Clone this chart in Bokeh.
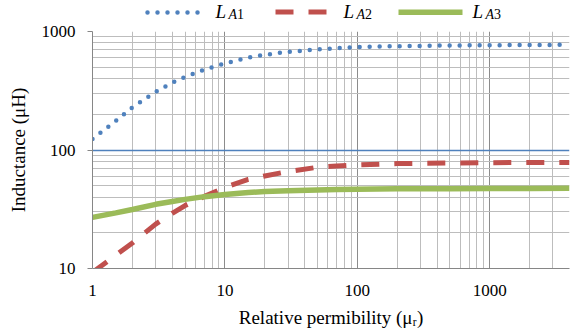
from bokeh.plotting import figure
from bokeh.layouts import column
from bokeh.models import FixedTicker, Label, NumeralTickFormatter, Range1d
from bokeh.embed import file_html
from bokeh.resources import INLINE

# ---- data ----
mu_r = [1, 1.5, 2, 3, 4, 5, 7, 10, 15, 20, 30, 50, 70, 100, 200, 500, 1000, 2000, 4000]
L_A1 = [124, 176, 229, 309, 370, 414, 478, 537, 604, 636, 674, 705, 722, 738, 752, 762, 766, 770, 772]
L_A2 = [9.27, 12.96, 16.4, 23.7, 29.2, 34.0, 40.6, 48.3, 56.5, 60.4, 65.8, 71.5, 73.3, 75.0, 76.8, 77.6, 78.2, 78.4, 78.4]
L_A3 = [27.0, 29.5, 31.5, 34.8, 36.8, 38.3, 40.4, 42.2, 43.8, 44.6, 45.3, 46.0, 46.4, 46.7, 47.0, 47.2, 47.3, 47.4, 47.5]

series_sub = ["A", "A", "A"]
series_num = ["1", "2", "3"]

x_ticks = [1, 10, 100, 1000]
x_tick_labels = ["1", "10", "100", "1000"]
y_ticks = [10, 100, 1000]
y_tick_labels = ["10", "100", "1000"]
x_minor = [m * d for d in (1, 10, 100) for m in range(2, 10)] + [2000, 3000, 4000]
y_minor = [m * d for d in (10, 100) for m in range(2, 10)]

SERIF = "Liberation Serif"
BLUE, RED, GREEN = "#4F81BD", "#C0504D", "#9BBB59"
styles = [
    dict(line_color=BLUE, line_width=4.5, line_dash="0 10", line_cap="round"),
    dict(line_color=RED, line_width=5, line_dash="18 15"),
    dict(line_color=GREEN, line_width=5.5),
]

BORDER_L, BORDER_R = 92, 8
W = 577

# ---- main chart ----
p = figure(width=W, height=310, x_axis_type="log", y_axis_type="log",
           x_range=Range1d(1, 4000), y_range=Range1d(10, 1000),
           output_backend="svg", toolbar_location=None,
           min_border_left=BORDER_L, min_border_right=BORDER_R,
           min_border_top=9, min_border_bottom=64)
p.outline_line_color = None
p.background_fill_color = "white"
p.border_fill_color = "white"

p.xaxis.ticker = FixedTicker(ticks=x_ticks, minor_ticks=x_minor)
p.yaxis.ticker = FixedTicker(ticks=y_ticks, minor_ticks=y_minor)
p.xaxis.formatter = NumeralTickFormatter(format="0")
p.yaxis.formatter = NumeralTickFormatter(format="0")
p.xaxis.major_label_overrides = {t: s for t, s in zip(x_ticks, x_tick_labels)}
p.yaxis.major_label_overrides = {t: s for t, s in zip(y_ticks, y_tick_labels)}

for ax in (p.xaxis[0], p.yaxis[0]):
    ax.axis_line_color = "#868686"
    ax.major_tick_line_color = "#868686"
    ax.minor_tick_line_color = None
    ax.major_tick_in = 0
    ax.major_label_text_font = SERIF
    ax.major_label_text_font_size = "17px"
    ax.major_label_text_color = "black"
    ax.axis_label_text_font = SERIF
    ax.axis_label_text_font_size = "19px"
    ax.axis_label_text_font_style = "normal"
    ax.axis_label_text_color = "black"

p.xaxis.major_tick_out = 0
p.xaxis.major_label_standoff = 12
p.xaxis.axis_label = "Relative permibility (\u03bc\u1d63)"
p.xaxis.axis_label_standoff = 8
p.yaxis.major_tick_out = 5
p.yaxis.major_label_standoff = 12
p.yaxis.axis_label = "Inductance (\u03bcH)"
p.yaxis.axis_label_standoff = 10

p.xgrid.grid_line_color = "#8C8C8C"
p.xgrid.minor_grid_line_color = "#BDBDBD"
p.ygrid.grid_line_color = BLUE
p.ygrid.grid_line_width = 1.5
p.ygrid.minor_grid_line_color = "#BDBDBD"

for ys, st in zip((L_A1, L_A2, L_A3), styles):
    p.line(mu_r, ys, **st)

# ---- legend strip above the chart (pixel-mapped figure, frame aligned with chart) ----
LEG_H = 22
leg = figure(width=W, height=LEG_H, x_range=Range1d(BORDER_L, W - BORDER_R), y_range=Range1d(LEG_H, 0),
             output_backend="svg", toolbar_location=None,
             min_border_left=BORDER_L, min_border_right=BORDER_R,
             min_border_top=0, min_border_bottom=0,
             x_axis_location=None, y_axis_location=None)
leg.outline_line_color = None
leg.xgrid.visible = False
leg.ygrid.visible = False

sample_x0 = [147, 275, 398]
sample_x1 = [203, 327, 462]
sample_y = [12, 11.5, 11.7]
text_x = [215, 343, 472]
for i in range(3):
    leg.line([sample_x0[i], sample_x1[i]], [sample_y[i], sample_y[i]], **styles[i])
    leg.add_layout(Label(x=text_x[i], y=11, text="L", text_font=SERIF,
                         text_font_style="italic", text_font_size="19px",
                         text_color="black", text_baseline="middle"))
    leg.add_layout(Label(x=text_x[i] + 13, y=13.5, text=series_sub[i], text_font=SERIF,
                         text_font_style="italic", text_font_size="14px",
                         text_color="black", text_baseline="middle"))
    leg.add_layout(Label(x=text_x[i] + 21.5, y=13.5, text=series_num[i], text_font=SERIF,
                         text_font_size="14px", text_color="black",
                         text_baseline="middle"))

layout = column(leg, p, spacing=0)
open("out.html", "w").write(file_html(layout, INLINE))
